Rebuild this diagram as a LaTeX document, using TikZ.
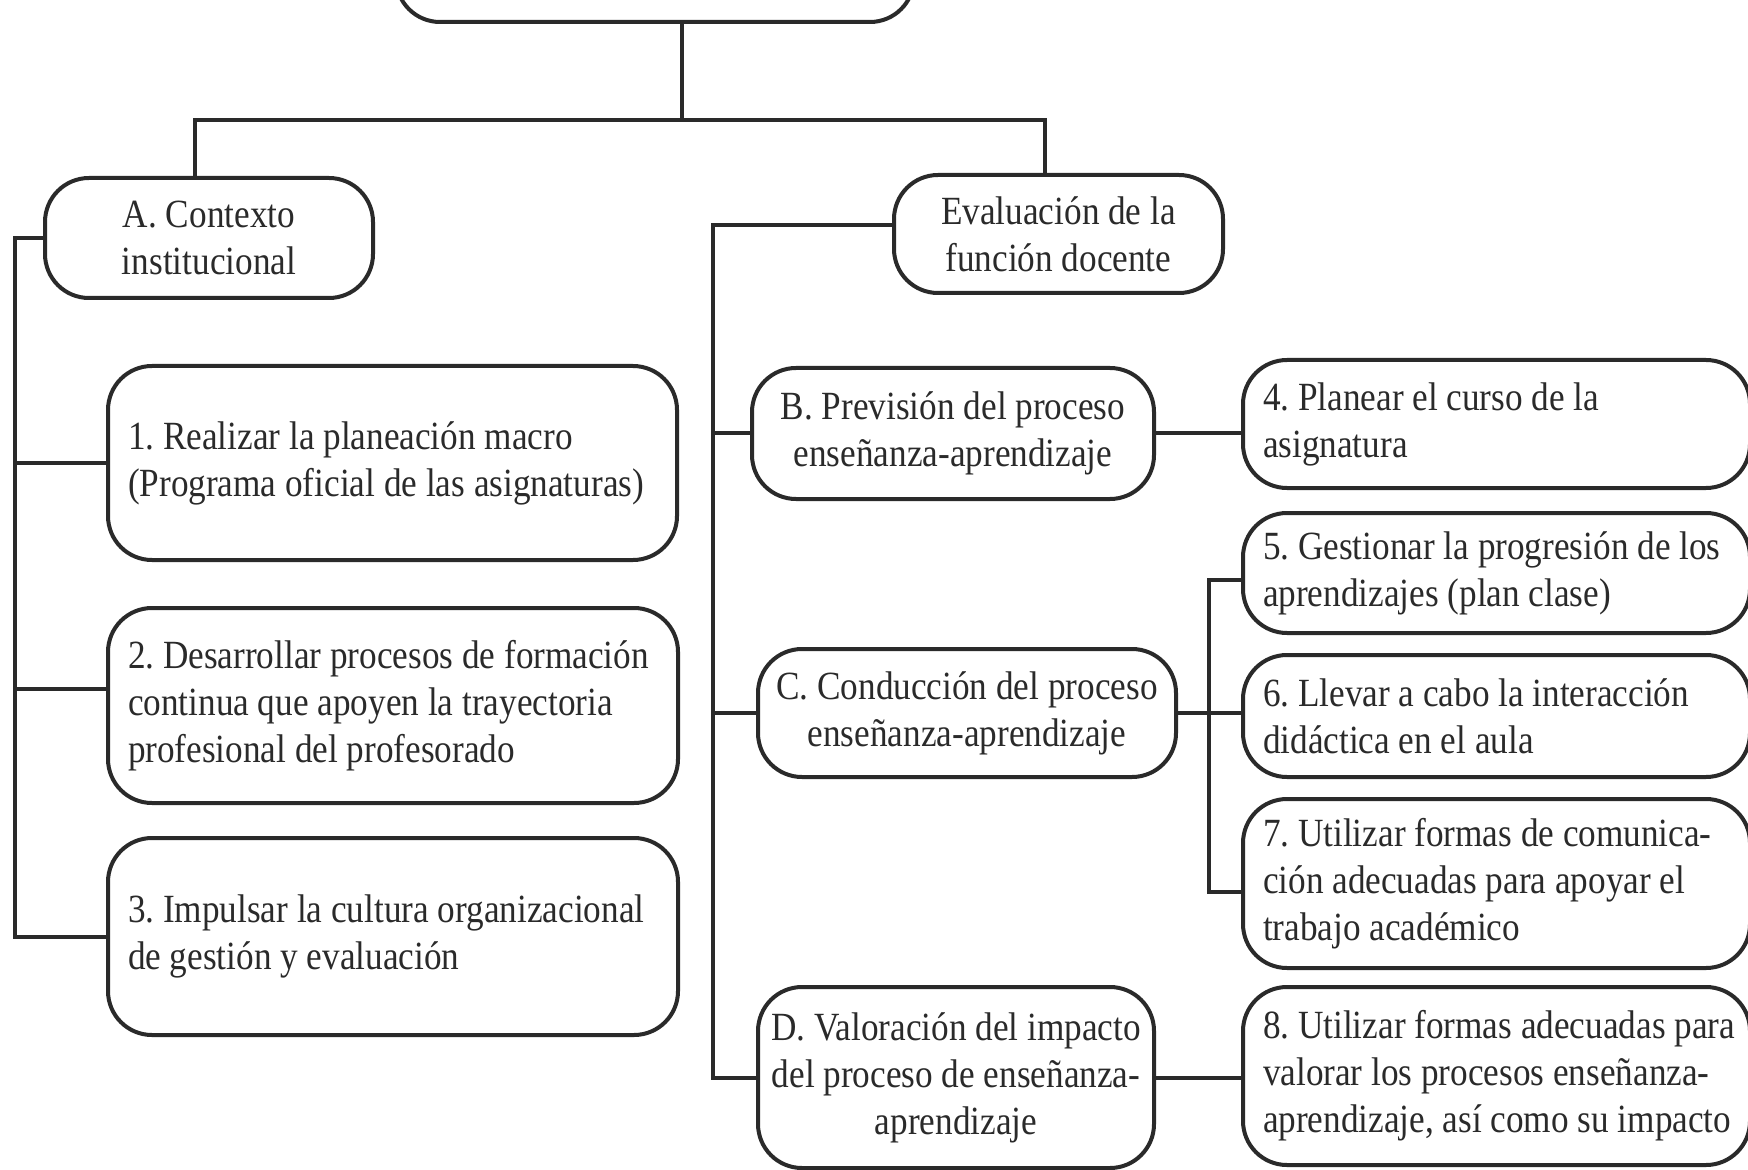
\documentclass[tikz,border=0pt]{standalone}
\usepackage{fontspec}
\setmainfont{Liberation Serif}[FakeStretch=0.88]
\definecolor{ink}{HTML}{2A2A2A}
\newcommand\fs{\fontsize{20pt}{23.5pt}\selectfont\frenchspacing}
\tikzset{
  box/.style={draw=ink, line width=2pt, rounded corners=22pt, fill=white, font=\fs, inner sep=0pt, text=ink},
  lbox/.style={box, align=left, inner xsep=10pt, execute at begin node={\spaceskip=0pt\xspaceskip=0pt\relax}},
  cbox/.style={box, align=center},
  wire/.style={draw=ink, line width=2pt}
}
\begin{document}
\begin{tikzpicture}[x=0.5pt, y=-0.5pt]
\useasboundingbox (0,0) rectangle (1748,1170);
\clip (0,0) rectangle (1748,1170);
\fill[white] (0,0) rectangle (1748,1170);
% nodes
\node[cbox, minimum width=259pt, minimum height=61pt] (top) at (655,-39) {};
\node[cbox, minimum width=164pt, minimum height=60pt] (A) at (209,238) {A. Contexto\\institucional};
\node[cbox, minimum width=164.5pt, minimum height=59pt] (E) at (1058.5,234) {Evaluación de la\\función docente};
\node[lbox, minimum width=284.5pt, minimum height=97pt, text width=264.5pt] (b1) at (392.5,463) {\mbox{1. Realizar la planeación macro}\\\mbox{(Programa oficial de las asignaturas)}};
\node[lbox, minimum width=285pt, minimum height=97.5pt, text width=265pt] (b2) at (393,705.5) {\mbox{2. Desarrollar procesos de formación}\\\mbox{continua que apoyen la trayectoria}\\\mbox{profesional del profesorado}};
\node[lbox, minimum width=285pt, minimum height=98.5pt, text width=265pt] (b3) at (393,936.5) {\mbox{3. Impulsar la cultura organizacional}\\\mbox{de gestión y evaluación}};
\node[cbox, minimum width=201pt, minimum height=65.5pt] (B) at (953,433.5) {B. Previsión del proceso\\enseñanza-aprendizaje};
\node[cbox, minimum width=209pt, minimum height=64pt] (C) at (967,713) {C. Conducción del proceso\\enseñanza-aprendizaje};
\node[cbox, minimum width=198pt, minimum height=90.5pt] (D) at (956,1077.5) {D. Valoración del impacto\\del proceso de enseñanza-\\aprendizaje};
\node[lbox, minimum width=253.5pt, minimum height=64pt, text width=233.5pt] (b4) at (1496.5,424) {\mbox{4. Planear el curso de la}\\\mbox{asignatura}};
\node[lbox, minimum width=253.5pt, minimum height=60pt, text width=233.5pt] (b5) at (1496.5,573) {\mbox{5. Gestionar la progresión de los}\\\mbox{aprendizajes (plan clase)}};
\node[lbox, minimum width=253.5pt, minimum height=61pt, text width=233.5pt] (b6) at (1496.5,716) {\mbox{6. Llevar a cabo la interacción}\\\mbox{didáctica en el aula}};
\node[lbox, minimum width=253.5pt, minimum height=84.5pt, text width=233.5pt] (b7) at (1496.5,883.5) {\mbox{7. Utilizar formas de comunica-}\\\mbox{ción adecuadas para apoyar el}\\\mbox{trabajo académico}};
\node[lbox, minimum width=253.5pt, minimum height=89pt, text width=233.5pt] (b8) at (1496.5,1076) {\mbox{8. Utilizar formas adecuadas para}\\\mbox{valorar los procesos enseñanza-}\\\mbox{aprendizaje, así como su impacto}};
% connectors
\coordinate (bar) at (682,120);
\coordinate (barL) at (195,120);
\coordinate (barR) at (1045,120);
\draw[wire] (bar |- top.south) -- (bar);
\draw[wire] (barL |- A.north) -- (barL) -- (barR) -- (barR |- E.north);
\coordinate (ls) at (14.5,0);
\draw[wire] (A.west) -- (ls |- A.west) -- (ls |- b3.west) -- (b3.west);
\draw[wire] (b1.west) -- (ls |- b1.west);
\coordinate (b2in) at ([yshift=8.5pt]b2.west);
\draw[wire] (b2in) -- (ls |- b2in);
\coordinate (rs) at (713,0);
\coordinate (ein) at ([yshift=4.5pt]E.west);
\draw[wire] (ein) -- (rs |- ein) -- (rs |- D.west) -- (D.west);
\draw[wire] (B.west) -- (rs |- B.west);
\draw[wire] (C.west) -- (rs |- C.west);
\draw[wire] (B.east) -- (B.east -| b4.west);
\coordinate (cs) at (1209,0);
\draw[wire] (C.east) -- (C.east -| b6.west);
\coordinate (b5in) at ([yshift=-3.5pt]b5.west);
\coordinate (b7in) at ([yshift=-4pt]b7.west);
\draw[wire] (b5in) -- (cs |- b5in) -- (cs |- b7in) -- (b7in);
\draw[wire] (D.east) -- (D.east -| b8.west);
\end{tikzpicture}
\end{document}
